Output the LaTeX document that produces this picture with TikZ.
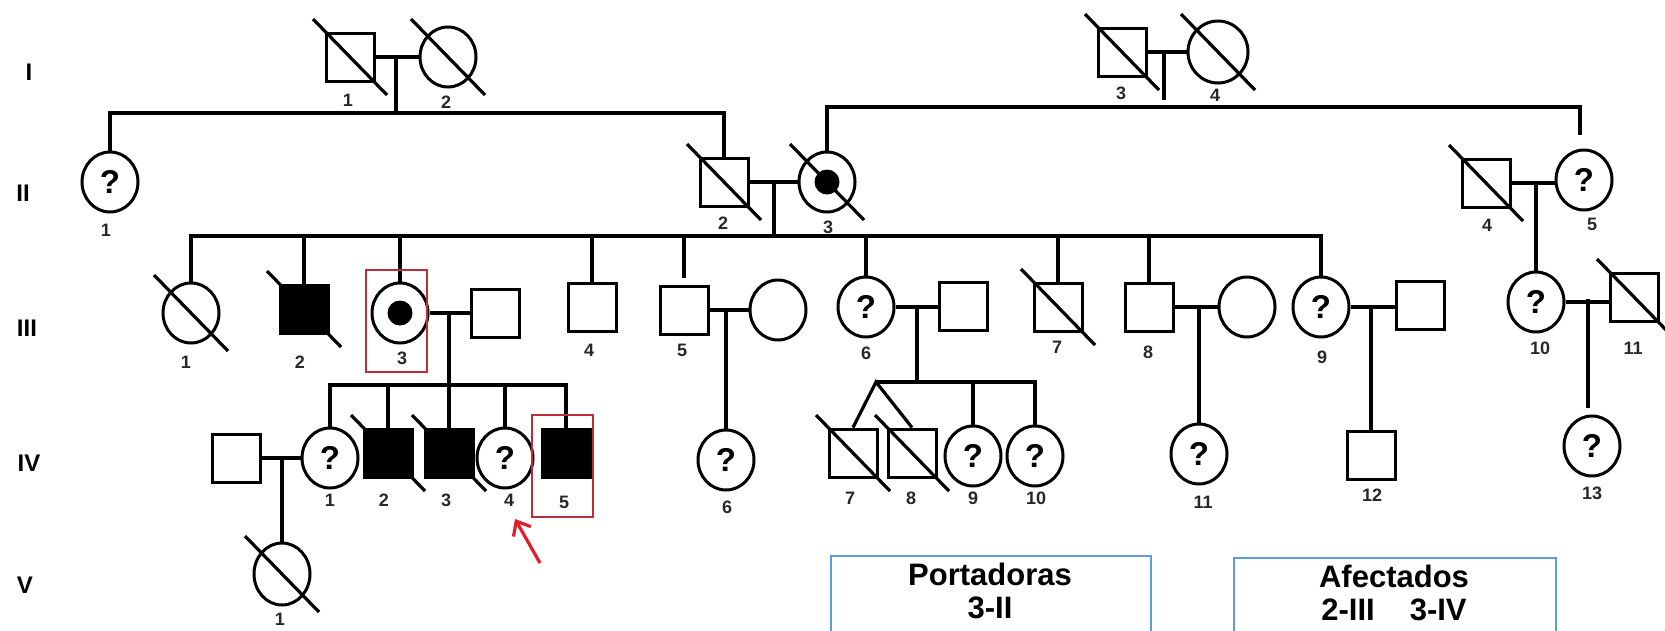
\documentclass[tikz,border=0pt]{standalone}
\usepackage{fontspec}
\setmainfont{Liberation Sans}
\usetikzlibrary{shapes.geometric,calc,arrows.meta}

\definecolor{hlred}{RGB}{190,45,55}
\definecolor{arrowred}{RGB}{225,30,40}
\definecolor{boxblue}{RGB}{95,155,215}
\definecolor{numgray}{RGB}{40,40,40}

\tikzset{
  pline/.style={line width=3.2pt},
  male/.style={draw, rectangle, line width=3pt, minimum width=48pt, minimum height=48pt, inner sep=0pt, fill=white},
  female/.style={draw, ellipse, line width=3pt, minimum width=56pt, minimum height=60pt, inner sep=0pt, fill=white},
  affected/.style={fill=black},
  unknown/.style={font=\fontsize{33}{33}\selectfont\bfseries},
  carrier/.style={path picture={\fill[black] (path picture bounding box.center) circle[radius=12.5pt];}},
  slashline/.style={line width=3.2pt},
  num/.style={font=\fontsize{18}{18}\selectfont\bfseries, text=numgray, inner sep=0pt},
  gen/.style={font=\fontsize{24}{24}\selectfont\bfseries, inner sep=0pt},
  hlbox/.style={draw=hlred, line width=1.5pt},
  legend/.style={draw=boxblue, line width=2.2pt, rectangle, inner sep=0pt},
  legtext/.style={font=\fontsize{31}{33}\selectfont\bfseries, inner sep=0pt, align=center},
  pointer/.style={draw=arrowred, line width=3.2pt, -{Straight Barb[length=12pt,width=20pt,line width=3.2pt]}}
}

\newcommand\deadslash[1]{\draw[slashline] ($(#1.center)+(-37,-38)$) -- ($(#1.center)+(37,38)$);}

\begin{document}
\begin{tikzpicture}[x=1pt,y=-1pt]
\useasboundingbox (0,0) rectangle (1665,630);
\clip (0,0) rectangle (1665,630);
\fill[white] (0,0) rectangle (1665,630);

% generation numerals
\node[gen] (gI)   at (29,72)  {I};
\node[gen] (gII)  at (23,193) {II};
\node[gen] (gIII) at (27,328) {III};
\node[gen] (gIV)  at (29,463) {IV};
\node[gen] (gV)   at (25,585) {V};

% ---------------- generation I
\node[male]   (I1) at (350,57) {};
\node[female] (I2) at (448,57) {};
\node[male]   (I3) at (1122,52) {};
\node[female, minimum width=60pt, minimum height=62pt] (I4) at (1218,52) {};

% ---------------- generation II
\node[female, unknown] (II1) at (110,182) {?};
\node[male]            (II2) at (724,182) {};
\node[female, carrier] (II3) at (827,182) {};
\node[male]            (II4) at (1486,183) {};
\node[female, unknown] (II5) at (1584,180) {?};

% ---------------- generation III
\node[female]          (III1)  at (191,313) {};
\node[male, affected]  (III2)  at (304,309) {};
\node[female, carrier] (III3)  at (400,313) {};
\node[male]            (III3s) at (495,313) {};
\node[male]            (III4)  at (592,307) {};
\node[male]            (III5)  at (684,310) {};
\node[female]          (III5s) at (778,310) {};
\node[female, unknown] (III6)  at (866,307) {?};
\node[male]            (III6s) at (963,306) {};
\node[male]            (III7)  at (1058,307) {};
\node[male]            (III8)  at (1149,307) {};
\node[female]          (III8s) at (1247,307) {};
\node[female, unknown] (III9)  at (1321,307) {?};
\node[male]            (III9s) at (1420,305) {};
\node[female, unknown] (III10) at (1536,302) {?};
\node[male]            (III11) at (1634,297) {};

% ---------------- generation IV
\node[male]            (IV1s) at (236,458) {};
\node[female, unknown] (IV1)  at (330,458) {?};
\node[male, affected]  (IV2)  at (388,453) {};
\node[male, affected]  (IV3)  at (449,453) {};
\node[female, unknown] (IV4)  at (505,458) {?};
\node[male, affected]  (IV5)  at (566,453) {};
\node[female, unknown] (IV6)  at (726,460) {?};
\node[male]            (IV7)  at (853,453) {};
\node[male]            (IV8)  at (912,453) {};
\node[female, unknown] (IV9)  at (973,456) {?};
\node[female, unknown] (IV10) at (1035,456) {?};
\node[female, unknown] (IV11) at (1199,454) {?};
\node[male]            (IV12) at (1371,455) {};
\node[female, unknown] (IV13) at (1592,446) {?};

% ---------------- generation V
\node[female, minimum height=62pt] (V1) at (282,574) {};

% deceased
\foreach \p in {I1,I2,I3,I4,II2,II3,II4,III1,III2,III7,III11,IV2,IV3,IV7,IV8,V1}{\deadslash{\p}}

% ---------------- couples and descent, generation I
\draw[pline] (I1.east) -- (I1.east -| I2.west);
\coordinate (dI1) at (396,57);
\coordinate (sI1) at (396,113);
\draw[pline] (dI1) -- (sI1);
\draw[pline] (II1.north) |- (sI1) -| (II2.north);

\draw[pline] (I3.east) -- (I3.east -| I4.west);
\coordinate (dI2)  at (1164,52);
\coordinate (dI2e) at (1164,100);
\coordinate (sI2)  at (1164,107);
\coordinate (sI2R) at (1580,135);
\draw[pline] (dI2) -- (dI2e);
\draw[pline] (II3.north) |- (sI2) -| (sI2R);

% ---------------- generation II
\draw[pline] (II2.east) -- (II2.east -| II3.west);
\coordinate (dII1) at (774,182);
\coordinate (sII1) at (774,236);
\draw[pline] (dII1) -- (sII1);
\draw[pline] (III1.north) |- (sII1) -| (III9.north);
\foreach \c in {III2,III3,III4,III6,III7,III8}{\draw[pline] (\c.north) -- (\c.north |- sII1);}
\coordinate (III5top) at (684,278);
\draw[pline] (III5.north |- sII1) -- (III5top);

\draw[pline] (II4.east) -- (II4.east -| II5.west);
\coordinate (dII2) at (1536,182);
\draw[pline] (dII2) -- (III10.north);

% ---------------- generation III
\draw[pline] (III3.east) -- (III3.east -| III3s.west);
\coordinate (dIII3) at (449,313);
\coordinate (sIII3) at (449,385);
\draw[pline] (dIII3) -- (IV3.north);
\draw[pline] (IV1.north) |- (sIII3) -| (IV5.north);
\foreach \c in {IV2,IV4}{\draw[pline] (\c.north) -- (\c.north |- sIII3);}

\draw[pline] (III5.east) -- (III5.east -| III5s.west);
\coordinate (dIII5) at (726,310);
\draw[pline] (dIII5) -- (IV6.north);

\draw[pline] (III6.east) -- (III6.east -| III6s.west);
\coordinate (dIII6) at (917,306);
\coordinate (sIII6) at (917,382);
\coordinate (tw) at (876,382);
\draw[pline] (dIII6) -- (sIII6);
\draw[pline] (tw) -| (IV10.north);
\draw[pline] (IV9.north) -- (IV9.north |- tw);
\draw[pline] (IV7.north) -- (tw) -- (IV8.north);

\draw[pline] (III8.east) -- (III8.east -| III8s.west);
\coordinate (dIII8) at (1199,307);
\draw[pline] (dIII8) -- (IV11.north);

\draw[pline] (III9.east) -- (III9.east -| III9s.west);
\coordinate (dIII9) at (1371,306);
\draw[pline] (dIII9) -- (IV12.north);

\draw[pline] (III10.east) -- (III10.east -| III11.west);
\coordinate (dIII10)  at (1588,299);
\coordinate (dIII10e) at (1588,408);
\draw[pline] (dIII10) -- (dIII10e);

% ---------------- generation IV
\draw[pline] (IV1s.east) -- (IV1s.east -| IV1.west);
\coordinate (dIV1) at (282,458);
\draw[pline] (dIV1) -- (V1.north);

% ---------------- individual numbers
\node[num] (nI1) at (348,100) {1};
\node[num] (nI2) at (446,102) {2};
\node[num] (nI3) at (1121,93) {3};
\node[num] (nI4) at (1215,95) {4};

\node[num] (nII1) at (106,230) {1};
\node[num] (nII2) at (723,223) {2};
\node[num] (nII3) at (828,227) {3};
\node[num] (nII4) at (1487,225) {4};
\node[num] (nII5) at (1592,224) {5};

\node[num] (nIII1)  at (186,362) {1};
\node[num] (nIII2)  at (300,362) {2};
\node[num] (nIII3)  at (402,358) {3};
\node[num] (nIII4)  at (589,350) {4};
\node[num] (nIII5)  at (682,350) {5};
\node[num] (nIII6)  at (866,353) {6};
\node[num] (nIII7)  at (1057,347) {7};
\node[num] (nIII8)  at (1148,352) {8};
\node[num] (nIII9)  at (1322,357) {9};
\node[num] (nIII10) at (1540,348) {10};
\node[num] (nIII11) at (1633,348) {11};

\node[num] (nIV1)  at (330,500) {1};
\node[num] (nIV2)  at (384,500) {2};
\node[num] (nIV3)  at (446,500) {3};
\node[num] (nIV4)  at (509,500) {4};
\node[num] (nIV5)  at (564,502) {5};
\node[num] (nIV6)  at (727,507) {6};
\node[num] (nIV7)  at (850,498) {7};
\node[num] (nIV8)  at (911,498) {8};
\node[num] (nIV9)  at (973,498) {9};
\node[num] (nIV10) at (1036,498) {10};
\node[num] (nIV11) at (1203,502) {11};
\node[num] (nIV12) at (1372,495) {12};
\node[num] (nIV13) at (1592,493) {13};

\node[num] (nV1) at (280,619) {1};

% highlighted individuals
\draw[hlbox] (366,270) rectangle (427,372);
\draw[hlbox] (532,415) rectangle (593,517);

% pointer to IV-4
\coordinate (ptail) at (540,563);
\coordinate (ptip)  at (515,519);
\draw[pointer] (ptail) -- (ptip);

% legend boxes
\node[legend, anchor=north west, minimum width=320pt, minimum height=160pt] (port) at (830,555) {};
\node[legend, anchor=north west, minimum width=322pt, minimum height=160pt] (afec) at (1233,557) {};
\node[legtext, anchor=north] (portT) at (990,563) {Portadoras\\3-II};
\node[legtext, anchor=north] (afecT) at (1394,565) {Afectados\\2-III\hspace{35pt}3-IV};
\end{tikzpicture}
\end{document}
